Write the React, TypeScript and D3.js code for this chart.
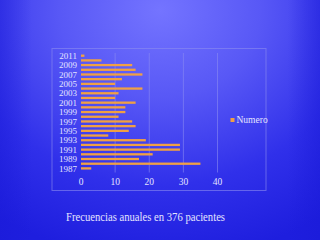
import React from "react";
import * as d3 from "d3";

const years = [1987,1988,1989,1990,1991,1992,1993,1994,1995,1996,1997,1998,1999,2000,2001,2002,2003,2004,2005,2006,2007,2008,2009,2010,2011];
const numero = [3,35,17,21,29,29,19,8,14,16,15,11,13,13,16,10,11,18,10,12,18,16,15,6,1];
const xTicks = [0,10,20,30,40];
const seriesName = "Numero";
const caption = "Frecuencias anuales en 376 pacientes";

export default function App() {
  const W = 320, H = 240;
  const x = d3.scaleLinear().domain([0, 40]).range([81, 217.5]);
  const y = d3.scaleBand<number>().domain([...years].reverse()).range([53.3, 170.7]);
  const txt = "#e4e4ff";
  const font = "'Liberation Serif', 'Times New Roman', serif";
  return (
    <svg width={W} height={H} style={{ position: "absolute", left: 0, top: 0 }}>
      <defs>
        <radialGradient id="bg" cx="160" cy="10" r="250" gradientUnits="userSpaceOnUse" gradientTransform="translate(160 10) scale(1.15 1) translate(-160 -10)">
          <stop offset="0" stopColor="#7474ff" />
          <stop offset="0.35" stopColor="#5858f6" />
          <stop offset="0.7" stopColor="#3030ea" />
          <stop offset="1" stopColor="#1e1ede" />
        </radialGradient>
        <linearGradient id="edge" x1="0" x2="1" y1="0" y2="0">
          <stop offset="0" stopColor="#1a1ad8" stopOpacity={0.45} />
          <stop offset="0.1" stopColor="#1a1ad8" stopOpacity={0} />
          <stop offset="0.9" stopColor="#1a1ad8" stopOpacity={0} />
          <stop offset="1" stopColor="#1a1ad8" stopOpacity={0.5} />
        </linearGradient>
      </defs>
      <rect x={0} y={0} width={W} height={H} fill="url(#bg)" />
      <rect x={0} y={0} width={W} height={H} fill="url(#edge)" />
      <rect x={52} y={48.5} width={214} height={142} fill="none" stroke="#8c8cf0" strokeOpacity={0.6} strokeWidth={1} />
      {xTicks.map(t => (
        <line key={t} x1={x(t)} x2={x(t)} y1={53} y2={172.5} stroke="#8a8af2" strokeOpacity={t === 0 ? 0 : 0.6} strokeWidth={1} />
      ))}
      {years.map((yr, i) => (
        <g key={yr}>
          <rect x={x(0)} y={y(yr)! + y.bandwidth() / 2 - 1.1} width={x(numero[i]) - x(0)} height={2.3} fill="#f0a044" />
        </g>
      ))}
      {years.filter((_, i) => i % 2 === 0).map(yr => (
        <text key={yr} x={77} y={y(yr)! + y.bandwidth() / 2} dy="0.35em" textAnchor="end" fontFamily={font} fontSize={9} fill={txt}>{yr}</text>
      ))}
      {xTicks.map(t => (
        <text key={t} x={x(t)} y={182} dy="0.35em" textAnchor="middle" fontFamily={font} fontSize={9.5} fill={txt}>{t}</text>
      ))}
      <rect x={230.5} y={118} width={4} height={4} fill="#f0a044" />
      <text x={236.5} y={120} dy="0.35em" fontFamily={font} fontSize={9.5} fill={txt}>{seriesName}</text>
      <text x={66} y={216.5} dy="0.35em" fontFamily={font} fontSize={12} fill={txt} textLength={159} lengthAdjust="spacingAndGlyphs">{caption}</text>
    </svg>
  );
}
